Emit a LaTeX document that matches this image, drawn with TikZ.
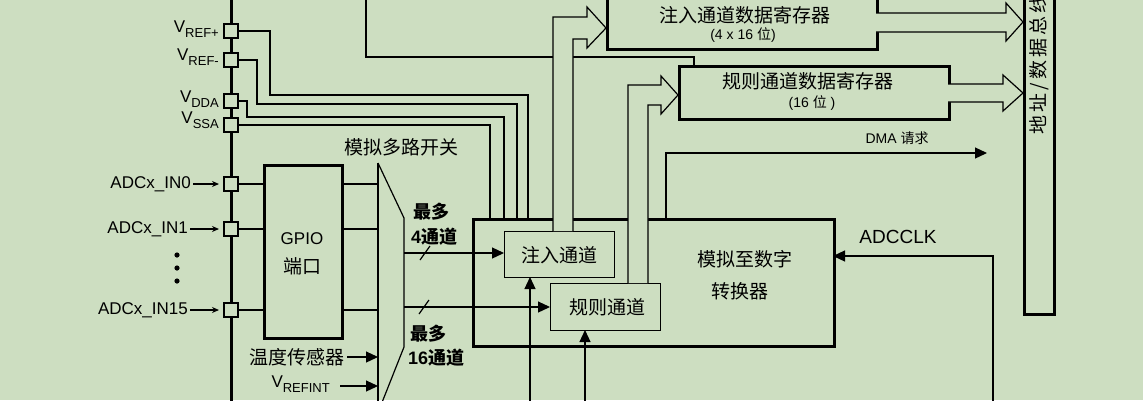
\documentclass[tikz,border=0pt]{standalone}
\usepackage{fontspec}
\setmainfont{Liberation Sans}
\newfontfamily\cjk{Noto Sans CJK SC}
\usetikzlibrary{arrows.meta}
\definecolor{bg}{RGB}{205,222,193}
\newcommand{\Vsub}[1]{V\raisebox{-0.5ex}{\fontsize{13}{14}\selectfont #1}}
\begin{document}
\begin{tikzpicture}[x=1pt,y=-1pt,
  thin/.style={line width=1.2pt},
  thick/.style={line width=3.2pt},
  pin/.style={draw,line width=1.3pt,fill=bg,minimum size=14pt,inner sep=0pt},
  lab/.style={font=\fontsize{17}{19}\selectfont,inner sep=0pt},
  cj/.style={font=\cjk\fontsize{19}{21}\selectfont,inner sep=0pt},
  tip/.style={-{Triangle[length=12pt,width=11pt]}},
  smalltip/.style={-{Stealth[length=7pt,width=6pt]}}]
\fill[bg] (0,0) rectangle (1143,400);
\clip (0,0) rectangle (1143,400);
% bus line
\draw[line width=3pt] (231,-5) -- (231,405);
% pins
\foreach \n/\y in {rp/31,rm/60,dd/101,ss/125,i0/184,i1/229,i15/310}
  \node[pin] (\n) at (231,\y) {};
\node[lab,anchor=east] at (219,29) {\Vsub{REF+}};
\node[lab,anchor=east] at (219,57) {\Vsub{REF-}};
\node[lab,anchor=east] at (219,99) {\Vsub{DDA}};
\node[lab,anchor=east] at (219,120) {\Vsub{SSA}};
\node[lab,anchor=east] (t0) at (191,184) {ADCx\_IN0};
\node[lab,anchor=east] (t1) at (188,229) {ADCx\_IN1};
\node[lab,anchor=east] (t15) at (188,310) {ADCx\_IN15};
\draw[thin,smalltip] (t0.east) ++(2,0) -- (219,184);
\draw[thin,smalltip] (t1.east) ++(2,0) -- (219,229);
\draw[thin,smalltip] (t15.east) ++(2,0) -- (219,310);
\foreach \y in {255,268,281} \fill (177,\y) circle (2.6pt);
% boxes
\node[draw,thick,minimum width=78pt,minimum height=173pt,inner sep=0pt,anchor=north west] (gpio) at (263,164) {};
\node[lab] at (302,239) {GPIO};
\node[cj] at (302,266) {端口};
\node[draw,thick,minimum width=361pt,minimum height=127pt,inner sep=0pt,anchor=north west] (adc) at (472,218) {};
\node[draw,thin,minimum width=110pt,minimum height=46pt,inner sep=0pt,anchor=north west,fill=bg] (inj) at (504,231) {};
\node[cj] at (559,255) {注入通道};
\node[draw,thin,minimum width=110pt,minimum height=47pt,inner sep=0pt,anchor=north west,fill=bg] (reg) at (550,283) {};
\node[cj] at (607,307) {规则通道};
\node[cj] at (745,259) {模拟至数字};
\node[cj] at (740,291) {转换器};
\node[draw,thick,minimum width=270pt,minimum height=70pt,inner sep=0pt,anchor=north west] (idr) at (606,-22) {};
\node[cj] at (745,15) {注入通道数据寄存器};
\node[lab,font=\fontsize{14}{16}\selectfont] at (743,35) {(4 x 16 {\cjk 位})};
\node[draw,thick,minimum width=270pt,minimum height=53pt,inner sep=0pt,anchor=north west] (rdr) at (678,65) {};
\node[cj] at (808,81) {规则通道数据寄存器};
\node[lab,font=\fontsize{14}{16}\selectfont] at (812,103) {(16 {\cjk 位} )};
\node[draw,thick,minimum width=30pt,minimum height=330pt,inner sep=0pt,anchor=north west] (busb) at (1023,-17) {};
\node[cj,rotate=90,anchor=west] at (1039,135) {地\,址\,/\,数\,据\,总\,线};
% power wires
\draw[thin] (rp.east) -- (270,31) -- (270,95) -- (528,95) -- (528,218);
\draw[thin] (rm.east) -- (257,60) -- (257,104) -- (517,104) -- (517,218);
\draw[thin] (dd.east) -- (247,101) -- (247,117) -- (504,117) -- (504,218);
\draw[thin] (ss.east) -- (490,125) -- (490,218);
\draw[thin] (366,-5) -- (366,57) -- (694,57) -- (694,65);
% gpio wires
\foreach \n/\y in {i0/184,i1/229,i15/310} {\draw[thin] (\n.east) -- (263,\y); \draw[thin] (341,\y) -- (378,\y);}
% mux
\draw[thin] (378,163) -- (378,405);
\draw[thin] (378,163) -- (404,218) -- (404,347) -- (381,405);
\node[cj] at (401,147) {模拟多路开关};
\node[cj,anchor=east] (temp) at (345,357) {温度传感器};
\draw[thin,tip] (temp.east) ++(2,0) -- (378,357);
\node[lab,anchor=east] (vri) at (330,384) {\Vsub{REFINT}};
\draw[thin,tip] (340,386) -- (378,386);
% mux outputs
\draw[thin,tip] (404,253) -- (504,253);
\draw[thin] (420,260) -- (430,246);
\draw[thin,tip] (404,307) -- (550,307);
\draw[thin] (419,314) -- (429,300);
\node[cj,font=\cjk\bfseries\fontsize{18}{20}\selectfont,anchor=west] at (413,212) {最多};
\node[lab,font=\bfseries\fontsize{18}{20}\selectfont,anchor=west] at (411,237) {4{\cjk\bfseries 通道}};
\node[cj,font=\cjk\bfseries\fontsize{18}{20}\selectfont,anchor=west] at (410,334) {最多};
\node[lab,font=\bfseries\fontsize{18}{20}\selectfont,anchor=west] at (408,358) {16{\cjk\bfseries 通道}};
% triggers
\draw[thin,tip] (530,405) -- (530,277);
\draw[thin,tip] (585,405) -- (585,330);
% hollow arrows
\draw[thin,fill=bg] (553,231) -- (553,17) -- (587,17) -- (587,7) -- (606,28) -- (587,48) -- (587,39) -- (573,39) -- (573,231);
\draw[thin,fill=bg] (628,283) -- (628,85) -- (661,85) -- (661,76) -- (678,95) -- (661,114) -- (661,105) -- (648,105) -- (648,283);
\draw[thin,fill=bg] (876,13) -- (1006,13) -- (1006,3) -- (1023,22) -- (1006,41) -- (1006,32) -- (876,32);
\draw[thin,fill=bg] (948,84) -- (1003,84) -- (1003,75) -- (1023,93) -- (1003,111) -- (1003,102) -- (948,102);
% DMA
\draw[thin,tip] (666,218) -- (666,153) -- (987,153);
\node[lab,font=\fontsize{14}{16}\selectfont] at (897,138) {DMA {\cjk 请求}};
% ADCCLK
\draw[thin,tip] (993,405) -- (993,256) -- (833,256);
\node[lab,font=\fontsize{19}{21}\selectfont] at (898,237) {ADCCLK};
\end{tikzpicture}
\end{document}
